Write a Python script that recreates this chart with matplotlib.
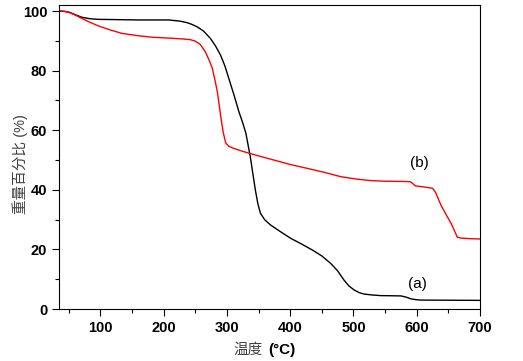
import matplotlib
matplotlib.use('Agg')
import matplotlib.pyplot as plt
from matplotlib.ticker import MultipleLocator

plt.rcParams['font.family'] = ['Liberation Sans', 'Noto Sans CJK SC', 'DejaVu Sans']

# 曲线 (a) 黑色
temp_a = [35, 43, 51, 60, 71, 84, 97, 130, 160, 208, 226, 237, 245, 253, 263, 274,
          282, 290, 297, 303, 311, 319, 325, 330, 337, 341, 345, 349, 353, 360, 369,
          385, 401, 418, 435, 450, 464, 475, 485, 493, 501, 509, 517, 530, 543, 560,
          575, 583, 591, 600, 607, 650, 700]
weight_a = [100, 99.9, 99.6, 98.8, 97.9, 97.4, 97.2, 97.1, 97.0, 97.0, 96.6, 96.1,
            95.5, 94.7, 93.3, 90.8, 88.3, 85.2, 81.5, 77.4, 72.0, 66.2, 62.5, 59.0,
            51.1, 45.5, 39.9, 35.3, 32.1, 29.9, 28.2, 25.9, 23.7, 21.8, 19.8, 17.8,
            15.3, 12.8, 9.7, 7.7, 6.4, 5.5, 5.0, 4.7, 4.5, 4.45, 4.4, 4.0, 3.4, 3.1,
            3.0, 2.95, 2.9]

# 曲线 (b) 红色
temp_b = [35, 43, 51, 60, 71, 84, 97, 115, 134, 160, 182, 210, 232, 242, 250, 258,
          266, 272, 277, 281, 285, 290, 294, 298, 303, 311, 322, 348, 374, 400, 427,
          455, 480, 505, 527, 548, 580, 590, 594, 598, 610, 625, 630, 638, 646, 654,
          660, 664, 670, 685, 700]
weight_b = [100, 99.9, 99.5, 98.7, 97.5, 96.2, 95.0, 93.7, 92.5, 91.7, 91.2, 90.9,
            90.6, 90.4, 89.9, 88.8, 86.3, 83.5, 80.8, 77.0, 72.9, 65.1, 59.5, 55.8,
            54.6, 53.9, 53.1, 51.5, 50.0, 48.5, 47.2, 45.8, 44.4, 43.6, 43.1, 42.9,
            42.8, 42.7, 42.0, 41.3, 41.0, 40.5, 39.0, 34.9, 31.8, 28.8, 26.0, 24.1,
            23.8, 23.6, 23.5]

fig = plt.figure(figsize=(5.23, 3.61), dpi=100)
ax = fig.add_axes([0.113, 0.144, 0.805, 0.842])

ax.plot(temp_a, weight_a, color='black', lw=1.0)
ax.plot(temp_b, weight_b, color='red', lw=1.0)

ax.set_xlim(35, 700)
ax.set_ylim(0, 102)
ax.xaxis.set_major_locator(MultipleLocator(100))
ax.xaxis.set_minor_locator(MultipleLocator(50))
ax.yaxis.set_major_locator(MultipleLocator(20))
ax.yaxis.set_minor_locator(MultipleLocator(10))
ax.tick_params(which='major', direction='out', length=5, width=0.8, labelsize=10.5)
ax.tick_params(which='minor', direction='out', length=3, width=0.8)
for lbl in ax.get_xticklabels() + ax.get_yticklabels():
    lbl.set_fontweight('bold')

ax.text(604, 49, '(b)', fontsize=11, ha='center', va='center')
ax.text(601, 8.5, '(a)', fontsize=11, ha='center', va='center')

# 坐标轴标题
ax.text(-0.093, 0.477, '重量百分比 (%)', transform=ax.transAxes, rotation=90,
        fontsize=10.5, color='#404040', ha='center', va='center')
fig.text(0.4455, 0.030, '温度', fontsize=10.5, color='#404040', ha='left', va='center')
fig.text(0.512, 0.030, '(°C)', fontsize=11, fontweight='bold', ha='left', va='center')

fig.savefig('out.png', dpi=100)
